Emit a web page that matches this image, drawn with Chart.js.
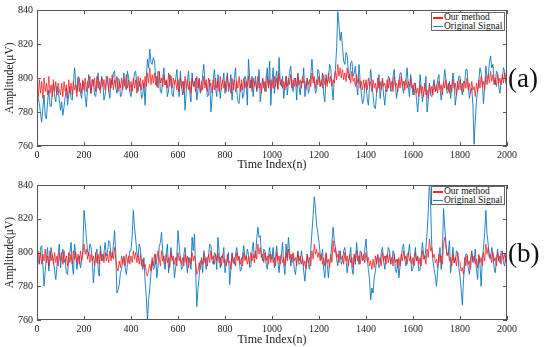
<!DOCTYPE html>
<html>
<head>
<meta charset="utf-8">
<script src="https://cdn.jsdelivr.net/npm/chart.js@4.4.0/dist/chart.umd.min.js"></script>
<style>
  body { margin: 0; background: #fff; width: 550px; height: 347px; position: relative; overflow: hidden; font-family: "Liberation Serif", serif; }
  canvas { position: absolute; left: 0; }
  #chartA { top: 0; }
  #chartB { top: 175px; }
  .panel { position: absolute; left: 508px; font-size: 27px; color: #111; line-height: 1; }
  .legend { position: absolute; left: 431px; width: 72px; border: 1px solid #666; background: #fff; font-size: 9.5px; line-height: 8.5px; padding: 0; color: #111; }
  .legend div { white-space: nowrap; height: 8.5px; }
  .legend span.sw { display: inline-block; width: 10px; height: 1.5px; vertical-align: middle; margin: 0 1px 0 1px; }
</style>
</head>
<body>
<canvas id="chartA" width="550" height="172"></canvas>
<canvas id="chartB" width="550" height="172"></canvas>
<div class="panel" style="top:65px">(a)</div>
<div class="panel" style="top:240px">(b)</div>
<div class="legend" id="legA" style="top:12px"></div>
<div class="legend" id="legB" style="top:186px"></div>
<script>
// sampled every 5 points of the time index
const sampleStep = 5;
const xTicks = [0, 200, 400, 600, 800, 1000, 1200, 1400, 1600, 1800, 2000];
const yTicks = [760, 780, 800, 820, 840];
const seriesNames = ["Our method", "Original Signal"];

// (a)
const blueA = [
  795, 788, 785, 779, 774, 782, 790, 778, 776, 786, 793, 784, 783, 791, 797, 789, 786, 795, 794, 787,
  781, 786, 778, 783, 789, 794, 784, 790, 795, 788, 787, 797, 806, 796, 792, 801, 800, 791, 788, 798,
  797, 789, 783, 793, 802, 795, 791, 799, 799, 790, 789, 797, 803, 793, 794, 801, 798, 787, 790, 797,
  801, 793, 788, 799, 796, 803, 804, 794, 791, 800, 799, 789, 790, 797, 803, 795, 793, 804, 800, 792,
  789, 796, 797, 803, 804, 795, 792, 798, 796, 788, 790, 797, 784, 800, 811, 806, 817, 809, 808, 812,
  810, 800, 795, 804, 803, 792, 791, 800, 806, 796, 798, 789, 793, 802, 801, 790, 789, 798, 799, 805,
  796, 789, 804, 795, 790, 798, 781, 792, 798, 804, 792, 786, 803, 796, 795, 800, 787, 793, 800, 791,
  793, 802, 808, 796, 797, 789, 790, 799, 780, 788, 799, 805, 794, 789, 802, 795, 788, 796, 797, 803,
  791, 798, 803, 792, 796, 802, 787, 795, 800, 806, 793, 786, 785, 794, 797, 788, 790, 801, 799, 784,
  811, 800, 794, 801, 789, 797, 801, 792, 796, 805, 786, 793, 800, 796, 792, 800, 806, 794, 810, 784,
  798, 806, 791, 799, 804, 794, 812, 798, 795, 801, 788, 796, 801, 790, 797, 804, 807, 795, 792, 800,
  799, 787, 803, 795, 790, 798, 797, 806, 789, 794, 800, 791, 794, 802, 811, 800, 798, 791, 793, 805,
  804, 795, 796, 803, 790, 786, 802, 797, 799, 808, 806, 795, 787, 800, 805, 818, 839, 831, 822, 827,
  818, 810, 808, 815, 813, 804, 799, 809, 810, 801, 803, 807, 796, 790, 808, 799, 791, 785, 787, 796,
  797, 788, 784, 795, 805, 797, 790, 783, 782, 791, 795, 802, 788, 794, 799, 790, 784, 793, 792, 801,
  800, 792, 793, 801, 805, 796, 788, 794, 797, 803, 803, 795, 791, 798, 799, 806, 795, 789, 802, 796,
  790, 797, 796, 787, 780, 789, 802, 794, 786, 792, 793, 801, 780, 787, 797, 790, 789, 795, 799, 792,
  793, 799, 802, 794, 787, 793, 797, 805, 799, 791, 792, 798, 788, 795, 803, 797, 784, 790, 796, 801,
  801, 794, 790, 798, 797, 805, 805, 795, 788, 792, 794, 784, 761, 775, 786, 793, 798, 806, 803, 797,
  785, 795, 807, 800, 800, 809, 813, 806, 808, 799, 796, 804, 803, 795, 791, 798, 799, 806, 804, 797,
  795
];
const redA = [
  795, 789, 799, 791, 798, 788, 800, 792, 797, 790, 801, 791, 796, 789, 799, 792, 798, 790, 797, 793,
  790, 797, 789, 798, 792, 796, 788, 799, 791, 797, 790, 798, 793, 796, 789, 800, 792, 797, 791, 799,
  793, 800, 792, 798, 794, 801, 791, 799, 795, 800, 792, 801, 794, 798, 791, 800, 795, 799, 793, 801,
  799, 792, 800, 794, 802, 793, 799, 795, 801, 792, 798, 794, 800, 793, 799, 795, 802, 794, 799, 792,
  798, 792, 800, 794, 799, 791, 801, 795, 800, 793, 799, 794, 801, 795, 803, 797, 806, 796, 802, 797,
  803, 796, 801, 794, 804, 797, 800, 795, 802, 796, 799, 794, 803, 795, 801, 794, 800, 796, 799, 793,
  799, 792, 800, 794, 798, 791, 801, 794, 799, 793, 798, 791, 800, 795, 798, 792, 801, 794, 799, 792,
  798, 793, 801, 794, 799, 792, 800, 795, 797, 791, 799, 793, 800, 794, 798, 792, 801, 793, 799, 794,
  798, 792, 801, 795, 797, 791, 800, 793, 799, 792, 798, 794, 801, 792, 799, 793, 800, 794, 798, 795,
  801, 794, 799, 792, 800, 795, 798, 793, 801, 794, 797, 791, 800, 794, 798, 792, 801, 795, 799, 793,
  799, 794, 801, 795, 800, 793, 803, 796, 799, 794, 798, 793, 801, 795, 800, 796, 802, 794, 799, 795,
  800, 795, 802, 796, 799, 794, 801, 797, 798, 793, 800, 796, 799, 795, 803, 797, 801, 794, 799, 796,
  801, 795, 799, 794, 802, 796, 800, 795, 803, 797, 801, 795, 799, 797, 804, 799, 808, 801, 806, 800,
  805, 799, 803, 798, 806, 800, 802, 797, 804, 798, 800, 795, 802, 797, 800, 794, 798, 793, 799, 794,
  799, 793, 800, 795, 798, 792, 799, 794, 797, 791, 800, 794, 798, 793, 800, 795, 797, 792, 799, 794,
  800, 794, 798, 792, 801, 795, 797, 792, 799, 794, 801, 795, 798, 793, 799, 794, 798, 795, 800, 794,
  796, 790, 797, 791, 794, 789, 796, 791, 795, 789, 797, 790, 793, 788, 796, 791, 795, 790, 797, 792,
  796, 791, 798, 793, 796, 790, 798, 794, 799, 793, 797, 791, 796, 792, 799, 794, 797, 790, 798, 793,
  799, 793, 797, 792, 798, 794, 800, 793, 797, 791, 798, 793, 795, 789, 797, 792, 799, 794, 801, 795,
  798, 793, 801, 796, 802, 797, 804, 798, 802, 796, 800, 795, 802, 797, 800, 796, 802, 797, 803, 798,
  800
];

// (b)
const blueB = [
  801, 795, 793, 803, 804, 792, 780, 789, 797, 803, 789, 796, 803, 798, 795, 789, 784, 792, 799, 805,
  791, 798, 802, 794, 796, 788, 787, 797, 800, 806, 793, 787, 805, 798, 790, 797, 798, 791, 795, 801,
  825, 818, 809, 801, 798, 805, 803, 796, 782, 791, 799, 802, 791, 786, 804, 797, 795, 800, 806, 798,
  800, 807, 806, 798, 797, 804, 813, 800, 776, 778, 781, 788, 790, 796, 798, 791, 787, 793, 795, 801,
  801, 810, 825, 815, 808, 800, 797, 805, 802, 794, 790, 797, 783, 774, 760, 772, 779, 788, 795, 790,
  791, 799, 785, 792, 803, 806, 812, 801, 794, 790, 799, 805, 788, 795, 803, 797, 796, 785, 791, 798,
  813, 804, 797, 790, 791, 799, 803, 795, 788, 797, 796, 790, 809, 801, 811, 790, 768, 778, 786, 795,
  795, 788, 801, 797, 790, 796, 798, 805, 804, 795, 793, 800, 799, 790, 809, 800, 791, 798, 797, 803,
  788, 793, 795, 800, 781, 790, 800, 794, 793, 799, 803, 797, 797, 789, 790, 799, 804, 797, 796, 802,
  799, 791, 792, 800, 806, 797, 797, 808, 815, 809, 810, 799, 795, 802, 801, 793, 790, 798, 803, 796,
  797, 803, 791, 797, 804, 795, 788, 796, 799, 806, 793, 787, 805, 797, 809, 800, 792, 799, 798, 790,
  787, 795, 801, 793, 794, 801, 796, 789, 783, 792, 799, 793, 790, 802, 812, 822, 833, 826, 816, 812,
  806, 799, 796, 802, 790, 785, 799, 793, 785, 794, 797, 806, 815, 807, 803, 796, 792, 801, 800, 793,
  795, 801, 803, 796, 788, 794, 797, 803, 791, 787, 799, 793, 806, 798, 793, 801, 800, 795, 796, 802,
  808, 797, 790, 784, 772, 779, 776, 785, 789, 796, 798, 791, 793, 800, 803, 795, 790, 798, 797, 803,
  801, 793, 794, 801, 799, 790, 788, 796, 785, 792, 797, 803, 805, 796, 792, 799, 799, 805, 796, 789,
  791, 797, 803, 795, 797, 789, 790, 798, 806, 799, 796, 803, 812, 825, 844, 828, 803, 795, 790, 786,
  780, 789, 797, 803, 790, 800, 826, 815, 806, 799, 799, 807, 788, 795, 803, 794, 795, 801, 800, 791,
  786, 778, 769, 784, 793, 799, 799, 791, 787, 796, 801, 794, 795, 802, 790, 784, 798, 793, 780, 796,
  803, 812, 825, 811, 805, 797, 796, 803, 799, 791, 788, 796, 802, 795, 794, 801, 800, 794, 792, 799,
  796
];
const redB = [
  797, 801, 794, 800, 793, 799, 795, 802, 794, 798, 792, 801, 795, 799, 793, 800, 794, 798, 792, 800,
  795, 800, 793, 801, 795, 798, 792, 800, 794, 799, 793, 801, 796, 800, 794, 799, 793, 801, 795, 799,
  805, 799, 802, 796, 800, 794, 799, 795, 798, 792, 800, 794, 799, 793, 801, 795, 799, 794, 800, 795,
  799, 794, 801, 795, 800, 796, 803, 796, 791, 789, 795, 791, 798, 793, 797, 792, 799, 794, 798, 793,
  798, 794, 801, 796, 800, 794, 798, 793, 799, 792, 796, 791, 793, 788, 786, 790, 793, 789, 797, 792,
  799, 793, 796, 801, 797, 792, 801, 795, 798, 793, 799, 794, 797, 791, 800, 795, 798, 793, 797, 792,
  800, 795, 798, 793, 797, 792, 799, 794, 798, 791, 797, 793, 800, 795, 798, 794, 787, 789, 794, 790,
  797, 793, 799, 794, 797, 792, 799, 794, 801, 796, 798, 793, 799, 795, 800, 794, 797, 792, 799, 794,
  796, 792, 799, 794, 795, 790, 799, 794, 797, 792, 800, 795, 798, 793, 797, 792, 800, 795, 798, 793,
  798, 793, 800, 795, 799, 794, 801, 796, 805, 799, 803, 797, 799, 794, 800, 795, 798, 793, 799, 794,
  799, 794, 797, 792, 800, 795, 798, 793, 799, 794, 797, 792, 800, 795, 802, 796, 799, 794, 800, 795,
  797, 792, 800, 795, 798, 793, 797, 792, 795, 790, 799, 794, 797, 792, 801, 796, 805, 799, 802, 797,
  800, 795, 799, 793, 797, 792, 800, 794, 796, 791, 799, 794, 807, 800, 803, 797, 799, 794, 801, 796,
  798, 793, 800, 795, 798, 792, 799, 794, 797, 791, 799, 795, 801, 795, 798, 793, 800, 795, 799, 794,
  800, 795, 797, 792, 795, 790, 796, 791, 798, 793, 799, 794, 797, 792, 800, 795, 798, 793, 799, 794,
  799, 794, 797, 792, 799, 794, 796, 791, 797, 792, 799, 795, 801, 796, 798, 793, 800, 795, 798, 793,
  797, 792, 800, 795, 798, 793, 797, 792, 801, 796, 798, 793, 802, 797, 808, 801, 803, 797, 799, 794,
  796, 791, 799, 794, 798, 793, 805, 809, 803, 798, 800, 795, 797, 792, 799, 794, 797, 792, 800, 795,
  794, 789, 791, 787, 797, 792, 798, 793, 795, 790, 800, 795, 798, 793, 796, 791, 799, 794, 797, 792,
  800, 795, 805, 799, 803, 797, 799, 794, 800, 795, 797, 792, 800, 795, 798, 793, 801, 796, 799, 794,
  798
];

const redColor = "rgba(255, 20, 20, 0.75)";
const blueColor = "rgba(0, 114, 189, 0.85)";
const legendColors = ["#ff2020", "#1a80cc"];
const tickFont = { family: "Liberation Serif", size: 10 };
const titleFont = { family: "Liberation Serif", size: 12 };

function toPoints(vals) {
  return vals.map((v, i) => ({ x: i * sampleStep, y: v }));
}

// kotak penuh + tick ke dalam seperti matlab
const framePlugin = {
  id: "frame",
  afterDatasetsDraw(chart) {
    const { ctx, chartArea: a, scales: { x, y } } = chart;
    ctx.save();
    ctx.strokeStyle = "#555";
    ctx.lineWidth = 1;
    ctx.strokeRect(Math.round(a.left) + 0.5, Math.round(a.top) + 0.5, Math.round(a.width) - 1, Math.round(a.height) - 1);
    ctx.beginPath();
    x.ticks.forEach((t) => {
      const px = Math.round(x.getPixelForValue(t.value)) + 0.5;
      ctx.moveTo(px, a.bottom); ctx.lineTo(px, a.bottom - 4);
      ctx.moveTo(px, a.top); ctx.lineTo(px, a.top + 4);
    });
    y.ticks.forEach((t) => {
      const py = Math.round(y.getPixelForValue(t.value)) + 0.5;
      ctx.moveTo(a.left, py); ctx.lineTo(a.left + 4, py);
      ctx.moveTo(a.right, py); ctx.lineTo(a.right - 4, py);
    });
    ctx.stroke();
    ctx.restore();
  }
};

function buatChart(id, redVals, blueVals, xHeight) {
  const ctx = document.getElementById(id).getContext("2d");
  return new Chart(ctx, {
    type: "line",
    data: {
      datasets: [
        { label: seriesNames[0], data: toPoints(redVals), borderColor: redColor, borderWidth: 1, pointRadius: 0, fill: false },
        { label: seriesNames[1], data: toPoints(blueVals), borderColor: blueColor, borderWidth: 1, pointRadius: 0, fill: false }
      ]
    },
    options: {
      responsive: false,
      animation: false,
      layout: { padding: { left: 0, right: 43, top: 7, bottom: 0 } },
      plugins: { legend: { display: false }, tooltip: { enabled: false } },
      scales: {
        x: {
          type: "linear", min: 0, max: 2000,
          afterBuildTicks: (s) => { s.ticks = xTicks.map((v) => ({ value: v })); },
          afterFit: (s) => { s.height = xHeight; },
          grid: { display: false, drawTicks: false }, border: { display: false },
          ticks: { font: tickFont, color: "#222", padding: 3, maxRotation: 0, callback: (v) => String(v) },
          title: { display: true, text: "Time Index(n)", font: titleFont, color: "#222", padding: 0 }
        },
        y: {
          min: 760, max: 840,
          afterBuildTicks: (s) => { s.ticks = yTicks.map((v) => ({ value: v })); },
          afterFit: (s) => { s.width = 37; },
          grid: { display: false, drawTicks: false }, border: { display: false },
          ticks: { font: tickFont, color: "#222", padding: 4, callback: (v) => String(v) },
          title: { display: true, text: "Amplitude(μV)", font: { family: "Liberation Serif", size: 11.5 }, color: "#222", padding: { top: 3, bottom: 0 } }
        }
      }
    },
    plugins: [framePlugin]
  });
}

function buatLegend(id, chart) {
  const el = document.getElementById(id);
  el.innerHTML = "";
  chart.data.datasets.forEach((ds, i) => {
    el.innerHTML += `<div><span class="sw" style="background:${legendColors[i]}"></span>${ds.label}</div>`;
  });
}

const chartA = buatChart("chartA", redA, blueA, 26);
const chartB = buatChart("chartB", redB, blueB, 27);
buatLegend("legA", chartA);
buatLegend("legB", chartB);
</script>
</body>
</html>
